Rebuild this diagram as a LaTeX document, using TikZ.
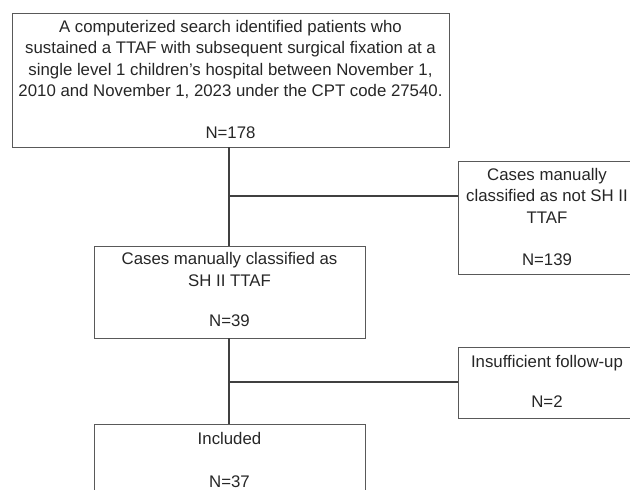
\documentclass[tikz,border=0pt]{standalone}
\usepackage{fontspec}
\setmainfont{Liberation Sans}
\begin{document}
\begin{tikzpicture}[x=1pt,y=-1pt,
  box/.style={draw=black!65, line width=0.9pt, inner sep=0pt},
  txt/.style={anchor=north, align=center, inner sep=0pt, text=black!85,
    font=\fontsize{16.8}{21.3}\selectfont},
  conn/.style={draw=black!75, line width=1.4pt}]
\useasboundingbox (0,0) rectangle (630,490);
\clip (0,0) rectangle (630,490);
% boxes
\node[box, minimum width=437pt, minimum height=134pt] (top) at (230.5,80) {};
\node[box, minimum width=271pt, minimum height=92pt] (mid) at (229.5,292) {};
\node[box, minimum width=271pt, minimum height=100pt] (inc) at (229.5,474) {};
\node[box, minimum width=178pt, minimum height=113pt] (r1) at (547,217.5) {};
\node[box, minimum width=178pt, minimum height=71pt] (r2) at (547,382.5) {};
% texts
\node[txt] (ttop) at ([yshift=-7.5pt]top.north) {A computerized search identified patients who\\sustained a TTAF with subsequent surgical fixation at a\\single level 1 children’s hospital between November 1,\\2010 and November 1, 2023 under the CPT code 27540.\\[21.3pt]N=178};
\node[txt] (tmid) at ([yshift=-7pt]mid.north) {Cases manually classified as\\SH II TTAF\\[19pt]N=39};
\node[txt] (tinc) at ([yshift=-8.5pt]inc.north) {Included\\[21.3pt]N=37};
\node[txt] (tr1) at ([yshift=-7.5pt]r1.north) {Cases manually\\classified as not SH II\\TTAF\\[21.3pt]N=139};
\node[txt] (tr2) at ([yshift=-8.5pt]r2.north) {Insufficient follow-up\\[19pt]N=2};
% connectors
\coordinate (j1) at (229,196);
\coordinate (j2) at (229,382);
\draw[conn] (top.south -| j1) -- (mid.north -| j1);
\draw[conn] (j1) -- (j1 -| r1.west);
\draw[conn] (mid.south -| j2) -- (inc.north -| j2);
\draw[conn] (j2) -- (j2 -| r2.west);
\end{tikzpicture}
\end{document}
